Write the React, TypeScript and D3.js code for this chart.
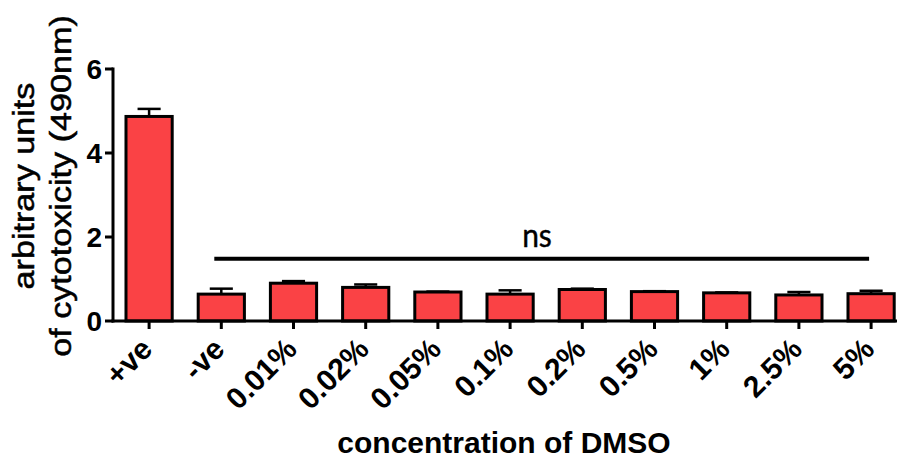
import { useEffect, useRef } from "react";
import * as d3 from "d3";

const CATEGORIES = ["+ve", "-ve", "0.01%", "0.02%", "0.05%", "0.1%", "0.2%", "0.5%", "1%", "2.5%", "5%"];
const MEANS = [4.87, 0.64, 0.9, 0.8, 0.69, 0.64, 0.75, 0.7, 0.67, 0.62, 0.65];
const ERRORS = [0.18, 0.13, 0.05, 0.07, 0.01, 0.09, 0.02, 0.01, 0.01, 0.07, 0.07];
const Y_TICKS = [0, 2, 4, 6];
const NS_FROM = "-ve";
const NS_TO = "5%";
const NS_LEVEL = 1.48;

const W = 897;
const H = 462;
const FONT = "'Liberation Sans', Arial, sans-serif";

export default function App() {
  const svgRef = useRef<SVGSVGElement>(null);

  useEffect(() => {
    if (!svgRef.current) return;
    const svg = d3.select(svgRef.current);
    svg.selectAll("*").remove();

    const x0 = 113;
    const step = 72.2;
    const x = d3.scaleBand<string>()
      .domain(CATEGORIES)
      .range([x0, x0 + step * CATEGORIES.length])
      .paddingInner(0.36)
      .paddingOuter(0.18);
    const y = d3.scaleLinear().domain([0, 6]).range([321, 69]);
    const cx = (c: string) => (x(c) ?? 0) + x.bandwidth() / 2;

    // error whiskers (upper only)
    const err = svg.append("g").attr("stroke", "#000").attr("stroke-width", 2.5);
    CATEGORIES.forEach((c, i) => {
      const top = y(MEANS[i] + ERRORS[i]);
      err.append("line")
        .attr("x1", cx(c)).attr("x2", cx(c))
        .attr("y1", y(MEANS[i])).attr("y2", top);
      err.append("line")
        .attr("x1", cx(c) - x.bandwidth() / 4).attr("x2", cx(c) + x.bandwidth() / 4)
        .attr("y1", top).attr("y2", top);
    });

    // bars
    svg.append("g")
      .selectAll("rect")
      .data(CATEGORIES)
      .join("rect")
      .attr("x", (c) => x(c) ?? 0)
      .attr("width", x.bandwidth())
      .attr("y", (_, i) => y(MEANS[i]))
      .attr("height", (_, i) => y(0) - y(MEANS[i]))
      .attr("fill", "#fa4245")
      .attr("stroke", "#000")
      .attr("stroke-width", 3);

    // y axis
    const ya = svg.append("g");
    ya.append("line")
      .attr("x1", x0).attr("x2", x0)
      .attr("y1", y(6) - 1.5).attr("y2", y(0) + 1.5)
      .attr("stroke", "#000").attr("stroke-width", 3);
    Y_TICKS.forEach((t) => {
      ya.append("line")
        .attr("x1", x0 - 8).attr("x2", x0)
        .attr("y1", y(t)).attr("y2", y(t))
        .attr("stroke", "#000").attr("stroke-width", 3);
      ya.append("text")
        .attr("x", x0 - 11).attr("y", y(t))
        .attr("dy", "0.36em")
        .attr("text-anchor", "end")
        .attr("font-family", FONT).attr("font-weight", "bold").attr("font-size", 28)
        .text(t);
    });

    // x axis
    const xa = svg.append("g");
    xa.append("line")
      .attr("x1", x0 - 1.5).attr("x2", W)
      .attr("y1", y(0)).attr("y2", y(0))
      .attr("stroke", "#000").attr("stroke-width", 3);
    CATEGORIES.forEach((c) => {
      xa.append("line")
        .attr("x1", cx(c)).attr("x2", cx(c))
        .attr("y1", y(0)).attr("y2", y(0) + 8)
        .attr("stroke", "#000").attr("stroke-width", 3);
      xa.append("text")
        .attr("transform", `translate(${cx(c) + 5},${y(0) + 30}) rotate(-45)`)
        .attr("text-anchor", "end")
        .attr("font-family", FONT).attr("font-weight", "bold").attr("font-size", 30)
        .text(c);
    });

    // ns bracket
    const nsY = y(NS_LEVEL);
    svg.append("line")
      .attr("x1", cx(NS_FROM) - 7).attr("x2", cx(NS_TO) - 2)
      .attr("y1", nsY).attr("y2", nsY)
      .attr("stroke", "#000").attr("stroke-width", 4);
    svg.append("text")
      .attr("transform", `translate(537,${nsY - 12}) scale(1,1.12)`)
      .attr("text-anchor", "middle")
      .attr("font-family", "Lato, 'Open Sans', sans-serif").attr("font-size", 30)
      .attr("stroke", "#000").attr("stroke-width", 0.4)
      .text("ns");

    // axis titles
    svg.append("text")
      .attr("x", 504).attr("y", 453)
      .attr("text-anchor", "middle")
      .attr("font-family", FONT).attr("font-weight", "bold").attr("font-size", 30)
      .text("concentration of DMSO");

    const yt = svg.append("g")
      .attr("transform", `translate(0,186) rotate(-90)`)
      .attr("font-family", FONT).attr("font-size", 28)
      .attr("stroke", "#000").attr("stroke-width", 0.5);
    yt.append("text")
      .attr("transform", "translate(0,34) scale(1.22,1.05)")
      .attr("text-anchor", "middle")
      .text("arbitrary units");
    yt.append("text")
      .attr("transform", "translate(0,71) scale(1.22,1.05)")
      .attr("text-anchor", "middle")
      .text("of cytotoxicity (490nm)");
  }, []);

  return (
    <svg
      ref={svgRef}
      width={W}
      height={H}
      style={{ position: "absolute", left: 0, top: 0, background: "#fff" }}
    />
  );
}
